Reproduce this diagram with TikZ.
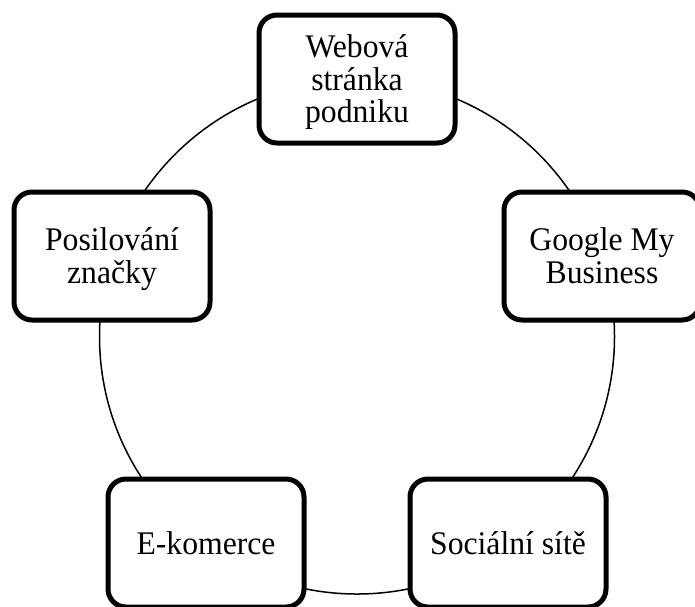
\documentclass[tikz,border=0pt]{standalone}
\usepackage{fontspec}
\setmainfont{Liberation Serif}[FakeStretch=0.96]
\begin{document}
\begin{tikzpicture}[x=1pt,y=-1pt,
  cyclebox/.style={draw=black, fill=white, line width=5pt, rounded corners=18pt,
    minimum width=196pt, minimum height=128pt, align=center, inner sep=4pt,
    font=\fontsize{33}{32.5}\selectfont, text depth=0pt},
  % text height = cap height plus the line gaps above the last baseline
  oneline/.style={text height=22pt},
  twoline/.style={text height=54.5pt},
  threeline/.style={text height=87pt},
  ring/.style={draw=black, line width=1.5pt}]
\useasboundingbox (0,0) rectangle (695,606);
% ring through the five stages
\coordinate (c) at (357,336.5);
\draw[ring] (c) circle[radius=257.5pt];
% stages, clockwise from the top
\node[cyclebox, threeline] (web) at (357,79) {Webová\\stránka\\podniku};
\node[cyclebox, twoline] (gmb) at (602,256) {Google My\\Business};
\node[cyclebox, oneline] (soc) at (508,543) {Sociální sítě};
\node[cyclebox, oneline] (eko) at (206,543) {E-komerce};
\node[cyclebox, twoline] (brand) at (112,256) {Posilování\\značky};
\end{tikzpicture}
\end{document}
